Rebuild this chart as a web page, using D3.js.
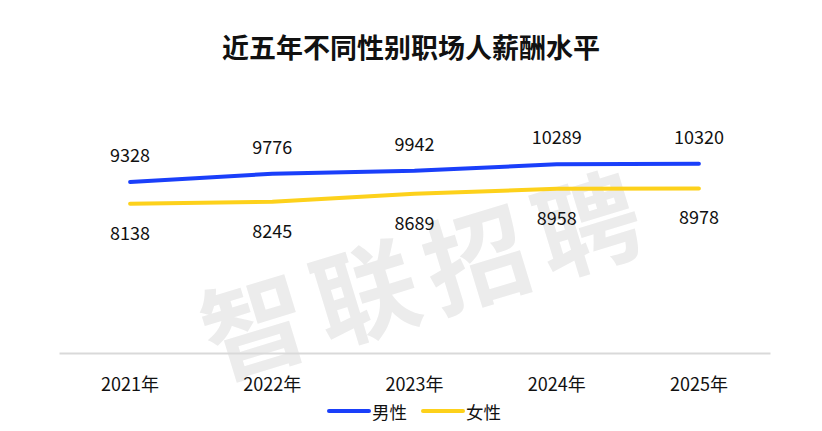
<!DOCTYPE html>
<html><head><meta charset="utf-8">
<script src="https://cdn.jsdelivr.net/npm/d3@7"></script>
<style>body{margin:0;background:#fff;}svg{display:block;font-family:"Microsoft YaHei","Noto Sans CJK SC",sans-serif;}</style>
</head><body><svg id="c" width="822" height="431"></svg>
<script>
const title = "近五年不同性别职场人薪酬水平";
const categories = ["2021年","2022年","2023年","2024年","2025年"];
const male = [9328, 9776, 9942, 10289, 10320];
const female = [8138, 8245, 8689, 8958, 8978];
const seriesNames = ["男性","女性"];
const colors = ["#1a3ffa","#fdd11b"];
const FONT = '"Microsoft YaHei","Noto Sans CJK SC",sans-serif';

const svg = d3.select("#c");
// watermark
svg.append("text").attr("transform","translate(425,268) rotate(-17)")
  .attr("text-anchor","middle").attr("dominant-baseline","central")
  .attr("font-size",104).attr("font-weight","bold").attr("fill","#ececec")
  .attr("letter-spacing",12).text("智联招聘");

svg.append("text").attr("x",411).attr("y",46).attr("text-anchor","middle")
  .attr("dominant-baseline","central").attr("font-size",27).attr("font-weight","bold")
  .attr("fill","#111").text(title);

const x = d3.scaleBand().domain(categories).range([59,770]);
const y = d3.scaleLinear().domain([0,12000]).range([353,133]);

const xAxis = svg.append("g").attr("transform","translate(0,353)").call(d3.axisBottom(x).tickSize(0).tickPadding(0));
xAxis.select(".domain").attr("stroke","#d9d9d9").attr("stroke-width",2);
xAxis.selectAll("text").attr("font-size",18).attr("fill","#111").attr("dy",0).attr("y",30)
  .attr("dominant-baseline","central").style("font-family",FONT);

const cx = c => x(c) + x.bandwidth()/2;
const line = d3.line().x((d,i)=>cx(categories[i])).y(d=>y(d));
[male,female].forEach((s,k)=>{
  svg.append("path").datum(s).attr("d",line).attr("fill","none")
    .attr("stroke",colors[k]).attr("stroke-width",4).attr("stroke-linecap","round").attr("stroke-linejoin","round");
});
svg.selectAll(".ml").data(male).join("text").attr("x",(d,i)=>cx(categories[i])).attr("y",d=>y(d)-28)
  .attr("text-anchor","middle").attr("dominant-baseline","central").attr("font-size",18).attr("fill","#111").text(d=>d);
svg.selectAll(".fl").data(female).join("text").attr("x",(d,i)=>cx(categories[i])).attr("y",d=>y(d)+28)
  .attr("text-anchor","middle").attr("dominant-baseline","central").attr("font-size",18).attr("fill","#111").text(d=>d);

// legend
const lg = svg.append("g");
const lx = [329, 423];
seriesNames.forEach((n,k)=>{
  lg.append("line").attr("x1",lx[k]).attr("x2",lx[k]+40).attr("y1",411).attr("y2",411)
    .attr("stroke",colors[k]).attr("stroke-width",4).attr("stroke-linecap","round");
  lg.append("text").attr("x",lx[k]+43).attr("y",411).attr("dominant-baseline","central")
    .attr("font-size",17.5).attr("fill","#111").text(n);
});
</script></body></html>
